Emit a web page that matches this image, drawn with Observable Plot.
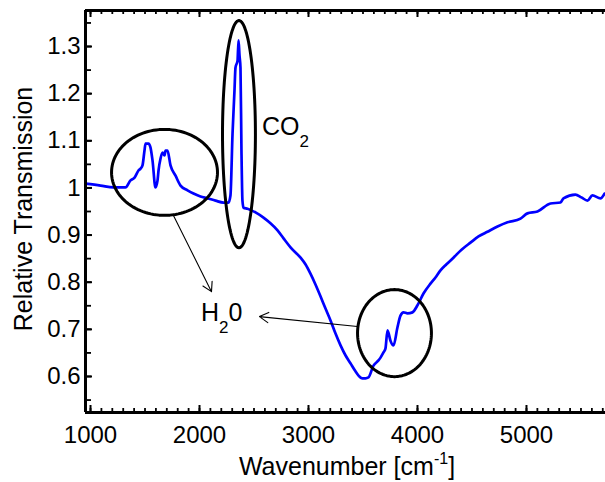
<!DOCTYPE html>
<html><head><meta charset="utf-8">
<script src="https://cdn.jsdelivr.net/npm/d3@7"></script>
<script src="https://cdn.jsdelivr.net/npm/@observablehq/plot@0.6"></script>
<style>
html,body{margin:0;padding:0;background:#fff;}
#chart{width:605px;height:482px;}
</style>
</head><body><div id="chart"></div>
<script>
// Spectrum
const wavenumber = [954,1092,1211,1321,1367,1404,1440,1459,1477,1495,1505,1532,1550,1569,1596,1615,1624,1642,1661,1679,1688,1706,1734,1780,1826,1890,1945,2009,2073,2147,2220,2266,2284,2303,2321,2330,2349,2358,2367,2376,2385,2394,2404,2440,2514,2587,2651,2716,2771,2835,2927,2972,3018,3064,3110,3156,3202,3248,3294,3339,3385,3431,3459,3495,3523,3550,3596,3642,3661,3688,3706,3725,3752,3780,3816,3844,3872,3908,3954,4000,4055,4119,4165,4211,4266,4330,4404,4486,4560,4642,4734,4826,4945,5009,5101,5220,5312,5339,5449,5504,5560,5605,5679,5716];
const transmission = [1.009,1.005,1.001,1.001,1.016,1.022,1.037,1.041,1.048,1.079,1.094,1.094,1.086,1.058,1.001,1.016,1.037,1.062,1.075,1.069,1.079,1.079,1.048,1.026,1.005,0.995,0.988,0.982,0.978,0.973,0.969,0.969,0.984,1.115,1.207,1.255,1.270,1.313,1.281,1.255,1.079,0.973,0.958,0.956,0.948,0.937,0.925,0.910,0.893,0.874,0.852,0.838,0.818,0.795,0.770,0.744,0.719,0.691,0.666,0.645,0.628,0.611,0.602,0.596,0.596,0.598,0.623,0.634,0.640,0.651,0.659,0.698,0.676,0.666,0.704,0.729,0.736,0.734,0.736,0.751,0.776,0.797,0.810,0.825,0.838,0.852,0.869,0.884,0.897,0.907,0.918,0.927,0.935,0.946,0.950,0.967,0.969,0.978,0.986,0.980,0.973,0.984,0.978,0.988];

// Axes
const xDomain = [954, 5725];
const yDomain = [0.5236, 1.3764];
const xTicks = [1000, 2000, 3000, 4000, 5000];
const yTicks = [0.6, 0.7, 0.8, 0.9, 1.0, 1.1, 1.2, 1.3];
const xMinorStep = 100;
const yMinorStep = 0.05;
const xLabel = "Wavenumber [cm";
const xLabelSup = "-1";
const xLabelEnd = "]";
const yLabel = "Relative Transmission";

// Annotations (ellipses, arrows, labels) in data units
const ellipseCx = [1679, 2362, 3789];
const ellipseCy = [1.033, 1.114, 0.692];
const ellipseRx = [486, 151, 339];
const ellipseRy = [0.0912, 0.241, 0.0923];
const arrowX1 = [1761, 3449];
const arrowY1 = [0.9415, 0.706];
const arrowX2 = [2110, 2550];
const arrowY2 = [0.780, 0.727];
const labelText = [["CO", "2", ""], ["H", "2", "0"]];
const labelX = [2578, 2018];
const labelY = [1.111, 0.717];

const W = 605, H = 482, mT = 10, mB = 70, mL = 85, mR = 0;
const plotH = H - mT - mB, plotW = W - mL - mR;

const series = wavenumber.map((w, i) => ({w, t: transmission[i]}));
const ellipsePts = [];
ellipseCx.forEach((cx, i) => {
  for (let k = 0; k <= 120; k++) {
    const a = 2 * Math.PI * k / 120;
    ellipsePts.push({id: i, x: cx + ellipseRx[i] * Math.cos(a), y: ellipseCy[i] + ellipseRy[i] * Math.sin(a)});
  }
});
const arrows = arrowX1.map((x1, i) => ({x1, y1: arrowY1[i], x2: arrowX2[i], y2: arrowY2[i]}));
const xMinor = d3.range(1000, xDomain[1], xMinorStep);
const yMinor = d3.range(0.55, yDomain[1], yMinorStep);

const chart = Plot.plot({
  width: W, height: H,
  marginTop: mT, marginBottom: mB, marginLeft: mL, marginRight: mR,
  style: {fontFamily: "'Liberation Sans', Arial, sans-serif", fontSize: "24px", color: "#000", background: "#fff", overflow: "visible"},
  x: {domain: xDomain},
  y: {domain: yDomain},
  marks: [
    Plot.line(series, {x: "w", y: "t", stroke: "#0000ff", strokeWidth: 2.7, curve: "monotone-x"}),
    Plot.line(ellipsePts, {x: "x", y: "y", z: "id", stroke: "#000", strokeWidth: 3}),
    Plot.arrow(arrows, {x1: "x1", y1: "y1", x2: "x2", y2: "y2", stroke: "#000", strokeWidth: 1.1, headLength: 14}),
    // inward ticks: bottom & top
    Plot.tickX(xMinor, {x: d => d, insetTop: plotH - 4, stroke: "#000", strokeWidth: 1.8}),
    Plot.tickX(xMinor, {x: d => d, insetBottom: plotH - 4, stroke: "#000", strokeWidth: 1.8}),
    Plot.tickX(xTicks, {x: d => d, insetTop: plotH - 7, stroke: "#000", strokeWidth: 2}),
    Plot.tickX(xTicks, {x: d => d, insetBottom: plotH - 7, stroke: "#000", strokeWidth: 2}),
    // inward ticks: left
    Plot.tickY(yMinor, {y: d => d, insetRight: plotW - 6, stroke: "#000", strokeWidth: 1.8}),
    Plot.tickY(yTicks, {y: d => d, insetRight: plotW - 7, stroke: "#000", strokeWidth: 2}),
    // frame (left, bottom, top)
    Plot.ruleX([xDomain[0]], {stroke: "#000", strokeWidth: 3}),
    Plot.ruleY([yDomain[0]], {stroke: "#000", strokeWidth: 3}),
    Plot.ruleY([yDomain[1]], {stroke: "#000", strokeWidth: 3}),
    Plot.axisX({ticks: xTicks, tickSize: 0, tickPadding: 13, label: null, fontSize: 24, tickFormat: d => String(d)}),
    Plot.axisY({ticks: yTicks, tickSize: 0, tickPadding: 5, label: null, fontSize: 24, tickFormat: d => String(+d.toFixed(1))})
  ]
});
document.getElementById("chart").appendChild(chart);

const svg = d3.select(chart);
const xs = chart.scale("x"), ys = chart.scale("y");
const font = "'Liberation Sans', Arial, sans-serif";

// y label
svg.append("text")
  .attr("transform", "translate(32,209) rotate(-90)")
  .attr("text-anchor", "middle")
  .attr("font-family", font).attr("font-size", 25).attr("fill", "#000")
  .text(yLabel);

// x label with superscript
const xl = svg.append("text")
  .attr("x", 347).attr("y", 475)
  .attr("text-anchor", "middle")
  .attr("font-family", font).attr("font-size", 25).attr("fill", "#000");
xl.append("tspan").text(xLabel);
xl.append("tspan").attr("font-size", 16).attr("dy", -11).text(xLabelSup);
xl.append("tspan").attr("dy", 11).text(xLabelEnd);

// annotation labels with subscripts
labelText.forEach((parts, i) => {
  const t = svg.append("text")
    .attr("x", xs.apply(labelX[i])).attr("y", ys.apply(labelY[i]))
    .attr("text-anchor", "start")
    .attr("font-family", font).attr("font-size", 25).attr("fill", "#000");
  t.append("tspan").text(parts[0]);
  t.append("tspan").attr("font-size", 17).attr("dy", 12).text(parts[1]);
  if (parts[2]) t.append("tspan").attr("dy", -12).text(parts[2]);
});
</script>
</body></html>
